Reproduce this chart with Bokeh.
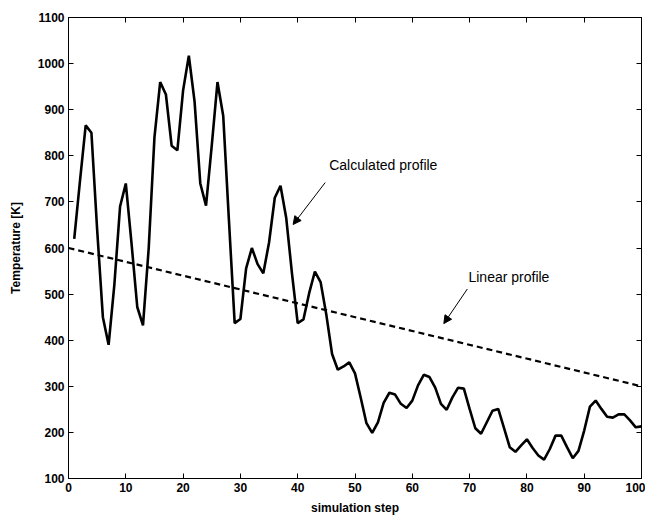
from bokeh.plotting import figure
from bokeh.models import Range1d, LinearAxis, Label, Arrow, NormalHead, FixedTicker, CustomJSTickFormatter
from bokeh.embed import file_html
from bokeh.resources import INLINE

steps = list(range(1, 101))
calculated = [620, 745, 866, 850, 640, 450, 390, 520, 690, 740,
              610, 472, 432, 600, 840, 960, 933, 822, 812, 942,
              1017, 918, 740, 692, 822, 960, 887, 660, 437, 446,
              556, 600, 565, 545, 612, 709, 735, 665, 545, 437,
              445, 502, 549, 526, 455, 370, 336, 343, 352, 328,
              275, 220, 199, 222, 264, 286, 282, 262, 253, 269,
              302, 325, 320, 297, 262, 249, 276, 297, 295, 251,
              209, 197, 222, 247, 251, 210, 168, 158, 172, 185,
              166, 150, 141, 164, 193, 193, 168, 144, 160, 204,
              256, 269, 251, 234, 232, 239, 239, 226, 211, 213]
linear_x = [0, 100]
linear_y = [600, 300]

x_ticks = [0, 10, 20, 30, 40, 50, 60, 70, 80, 90, 100]
y_ticks = [100, 200, 300, 400, 500, 600, 700, 800, 900, 1000, 1100]

FONT = "Liberation Sans"

p = figure(width=645, height=517, output_backend="svg", toolbar_location=None,
           x_range=Range1d(0, 100), y_range=Range1d(100, 1100),
           min_border_left=68, min_border_right=4, min_border_top=17, min_border_bottom=39)
p.xgrid.visible = False
p.ygrid.visible = False
p.outline_line_color = "black"
p.outline_line_width = 1
p.background_fill_color = "white"
p.border_fill_color = "white"

def style_axis(ax, ticks, labels=True):
    ax.ticker = FixedTicker(ticks=ticks)
    ax.axis_line_color = "black"
    ax.major_tick_in = 5
    ax.major_tick_out = 0
    ax.minor_tick_in = 0
    ax.minor_tick_out = 0
    ax.major_tick_line_color = "black"
    ax.major_label_text_font = FONT
    ax.major_label_text_font_style = "bold"
    ax.major_label_text_font_size = "12px"
    ax.major_label_text_color = "black"
    ax.major_label_standoff = 4 if labels else 0
    if not labels:
        ax.formatter = CustomJSTickFormatter(code="return '';")
    ax.axis_label_text_font = FONT
    ax.axis_label_text_font_style = "bold"
    ax.axis_label_text_font_size = "12px"
    ax.axis_label_text_color = "black"

style_axis(p.xaxis[0], x_ticks)
style_axis(p.yaxis[0], y_ticks)
p.xaxis[0].axis_label = "simulation step"
p.yaxis[0].axis_label = "Temperature [K]"
p.xaxis[0].axis_label_standoff = 6
p.yaxis[0].axis_label_standoff = 12

top = LinearAxis()
style_axis(top, x_ticks, labels=False)
p.add_layout(top, "above")
right = LinearAxis()
style_axis(right, y_ticks, labels=False)
p.add_layout(right, "right")

p.line(steps, calculated, line_color="black", line_width=2.6)
p.line(linear_x, linear_y, line_color="black", line_width=2.2, line_dash="6 4")

p.add_layout(Label(x=45.5, y=779, text="Calculated profile", text_font=FONT,
                   text_font_size="14px", text_baseline="middle", text_color="black"))
p.add_layout(Arrow(x_start=44.8, y_start=742, x_end=39.2, y_end=651,
                   line_color="black", line_width=1,
                   end=NormalHead(size=8, fill_color="black", line_color="black")))
p.add_layout(Label(x=69.8, y=538, text="Linear profile", text_font=FONT,
                   text_font_size="14px", text_baseline="middle", text_color="black"))
p.add_layout(Arrow(x_start=69.6, y_start=511, x_end=65.5, y_end=436,
                   line_color="black", line_width=1,
                   end=NormalHead(size=8, fill_color="black", line_color="black")))

open("out.html", "w").write(file_html(p, INLINE))
